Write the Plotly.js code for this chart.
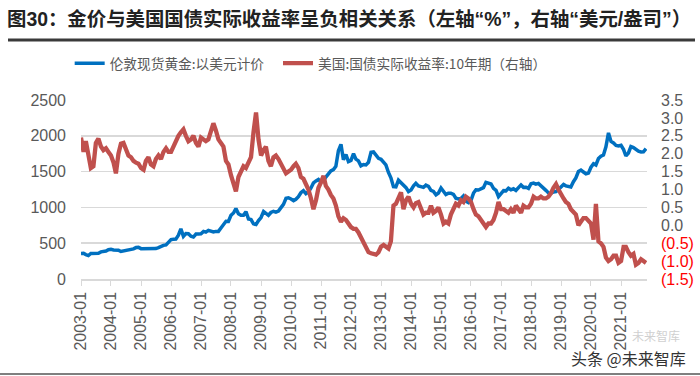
<!DOCTYPE html>
<html>
<head>
<meta charset="utf-8">
<script src="https://cdn.plot.ly/plotly-3.0.1.min.js"></script>
<style>html,body{margin:0;padding:0;background:#fff;}#chart{width:700px;height:376px;}</style>
</head>
<body>
<div id="chart"></div>
<script>
// Monthly observations, first point = 2003-01
const startYear = 2003;
const goldName = '伦敦现货黄金:以美元计价';
const yieldName = '美国:国债实际收益率:10年期（右轴）';

const goldPrice = [
  357, 359, 341, 328, 356, 356, 351, 360, 379, 379, 390, 408,
  414, 405, 407, 403, 384, 392, 398, 401, 405, 421, 439, 442,
  424, 423, 434, 429, 422, 431, 425, 438, 456, 470, 477, 510,
  550, 555, 557, 611, 700, 596, 634, 633, 598, 586, 628, 630,
  631, 665, 655, 679, 667, 656, 665, 665, 713, 755, 806, 803,
  890, 922, 985, 910, 889, 890, 940, 839, 830, 770, 760, 816,
  859, 943, 924, 890, 929, 946, 934, 949, 997, 1043, 1127, 1135,
  1118, 1095, 1113, 1149, 1205, 1233, 1193, 1216, 1271, 1342, 1370, 1391,
  1356, 1373, 1424, 1474, 1510, 1529, 1573, 1790, 1880, 1665, 1739, 1640,
  1656, 1750, 1674, 1650, 1580, 1599, 1594, 1630, 1770, 1775, 1722, 1685,
  1672, 1628, 1593, 1488, 1414, 1290, 1286, 1380, 1349, 1317, 1276, 1222,
  1244, 1300, 1336, 1299, 1288, 1279, 1311, 1295, 1237, 1223, 1176, 1201,
  1270, 1227, 1179, 1199, 1199, 1182, 1128, 1118, 1125, 1159, 1086, 1068,
  1098, 1200, 1245, 1242, 1261, 1276, 1350, 1340, 1327, 1267, 1238, 1151,
  1192, 1234, 1231, 1267, 1246, 1260, 1237, 1283, 1314, 1280, 1282, 1265,
  1331, 1340, 1325, 1335, 1304, 1282, 1238, 1202, 1198, 1215, 1221, 1250,
  1292, 1320, 1301, 1286, 1284, 1359, 1413, 1500, 1520, 1495, 1470, 1479,
  1561, 1610, 1592, 1683, 1716, 1732, 1847, 2040, 1922, 1900, 1866, 1858,
  1867, 1808, 1718, 1760, 1850, 1835, 1808, 1785, 1775, 1777, 1820
];

const realYield = [
  2.45, 2.05, 2.35, 2.00, 1.60, 1.65, 2.30, 2.42, 2.20, 2.10, 2.15, 2.05,
  1.95, 1.75, 1.45, 2.00, 2.28, 2.30, 2.15, 1.95, 1.90, 1.80, 1.75, 1.72,
  1.60, 1.55, 1.80, 1.90, 1.70, 1.65, 1.85, 1.95, 1.85, 2.05, 2.15, 2.05,
  2.05, 2.20, 2.40, 2.50, 2.60, 2.68, 2.50, 2.35, 2.40, 2.50, 2.30, 2.20,
  2.45, 2.40, 2.35, 2.40, 2.60, 2.85, 2.65, 2.40, 2.30, 2.20, 1.80, 1.70,
  1.40, 1.20, 0.95, 1.35, 1.50, 1.65, 1.60, 1.75, 1.90, 2.60, 3.15, 2.40,
  1.95, 2.10, 2.20, 1.80, 1.65, 1.90, 1.95, 1.85, 1.70, 1.55, 1.45, 1.50,
  1.55, 1.65, 1.72, 1.60, 1.35, 1.30, 1.15, 1.00, 0.75, 0.45, 0.70, 1.05,
  1.20, 1.38, 1.10, 1.00, 0.85, 0.75, 0.55, 0.25, 0.10, 0.20, 0.15, 0.05,
  -0.05, -0.10, -0.10, -0.20, -0.35, -0.45, -0.65, -0.75, -0.78, -0.80, -0.82, -0.75,
  -0.60, -0.55, -0.60, -0.65, -0.45, 0.55, 0.60, 0.75, 0.92, 0.45, 0.70, 0.80,
  0.60, 0.50, 0.62, 0.65, 0.45, 0.30, 0.35, 0.35, 0.55, 0.35, 0.40, 0.50,
  0.30, 0.05, 0.10, 0.05, 0.30, 0.45, 0.60, 0.55, 0.70, 0.65, 0.80, 0.75,
  0.65, 0.45, 0.30, 0.25, 0.15, 0.05, -0.05, 0.05, 0.05, 0.15, 0.35, 0.65,
  0.45, 0.45, 0.40, 0.35, 0.45, 0.35, 0.55, 0.45, 0.35, 0.55, 0.50, 0.50,
  0.60, 0.80, 0.75, 0.75, 0.80, 0.75, 0.75, 0.80, 0.90, 1.05, 1.15, 1.00,
  0.85, 0.75, 0.65, 0.60, 0.45, 0.35, 0.30, 0.00, 0.10, 0.20, 0.20, 0.10,
  0.05, -0.40, 0.60, -0.45, -0.50, -0.60, -0.90, -1.00, -0.95, -0.85, -0.85, -1.05,
  -1.00, -0.60, -0.60, -0.75, -0.85, -0.80, -1.10, -1.05, -0.95, -1.00, -1.05
];

const leftTicks = [0, 500, 1000, 1500, 2000, 2500];
const rightTicks = [-1.5, -1.0, -0.5, 0, 0.5, 1.0, 1.5, 2.0, 2.5, 3.0, 3.5];
const rightTickText = ['(1.5)', '(1.0)', '(0.5)', '0.0', '0.5', '1.0', '1.5', '2.0', '2.5', '3.0', '3.5'];
const yearTicks = ['2003-01','2004-01','2005-01','2006-01','2007-01','2008-01','2009-01','2010-01','2011-01','2012-01','2013-01','2014-01','2015-01','2016-01','2017-01','2018-01','2019-01','2020-01','2021-01'];

function monthDates(n) {
  const out = [];
  for (let i = 0; i < n; i++) {
    const y = startYear + Math.floor(i / 12);
    const m = (i % 12) + 1;
    out.push(y + '-' + (m < 10 ? '0' + m : m) + '-01');
  }
  return out;
}

const gridGray = '#d9d9d9';
const textGray = '#595959';
const font = 'Liberation Sans, Arial, Noto Sans CJK SC, sans-serif';
const legendFont = {family: 'Noto Sans CJK SC, Liberation Sans, sans-serif', size: 13.7, color: textGray};

const traces = [
  {
    x: monthDates(goldPrice.length), y: goldPrice, name: goldName,
    type: 'scatter', mode: 'lines', yaxis: 'y', legend: 'legend',
    line: {color: '#0070C0', width: 3.5}
  },
  {
    x: monthDates(realYield.length), y: realYield, name: yieldName,
    type: 'scatter', mode: 'lines', yaxis: 'y2', legend: 'legend2',
    line: {color: '#C0504D', width: 4.3}
  }
];

const layout = {
  width: 700, height: 376,
  margin: {l: 81, r: 53, t: 100, b: 97, pad: 0},
  paper_bgcolor: '#fff', plot_bgcolor: '#fff',
  font: {family: font, color: textGray, size: 16},
  title: {
    text: '<b>图30：金价与美国国债实际收益率呈负相关关系（左轴“%”，右轴“美元/盎司”）</b>',
    x: 7/700, xref: 'container', xanchor: 'left',
    y: 1 - 19/376, yref: 'container', yanchor: 'middle',
    font: {family: 'Liberation Sans, Noto Sans CJK SC, sans-serif', size: 19.4, color: '#222'}
  },
  showlegend: true,
  legend: {
    orientation: 'h', x: -0.02, xanchor: 'left', y: 1.205, yanchor: 'middle',
    font: legendFont, bgcolor: 'rgba(0,0,0,0)', itemwidth: 30
  },
  legend2: {
    orientation: 'h', x: (278-81)/566, xanchor: 'left', y: 1.205, yanchor: 'middle',
    font: legendFont, bgcolor: 'rgba(0,0,0,0)', itemwidth: 30
  },
  xaxis: {
    type: 'date',
    range: ['2003-01-01', '2021-11-13'],
    tickvals: yearTicks.map(t => t + '-01'),
    ticktext: yearTicks,
    tickangle: -90,
    ticks: 'outside', ticklen: 5, tickcolor: gridGray, tickwidth: 1,
    showline: true, linecolor: gridGray, linewidth: 1.5,
    showgrid: false, zeroline: false,
    tickfont: {size: 16, color: textGray}
  },
  yaxis: {
    range: [0, 2500], tickvals: leftTicks,
    showgrid: true, gridcolor: gridGray, gridwidth: 1.5,
    zeroline: false, showline: false, ticks: '',
    ticklabelstandoff: 14,
    tickfont: {size: 16, color: textGray}
  },
  yaxis2: {
    overlaying: 'y', side: 'right',
    range: [-1.5, 3.5], tickvals: rightTicks,
    ticktext: rightTickText.map(t => t.charAt(0) === '(' ? '<span style="color:#FF0000">' + t + '</span>' : t),
    showgrid: false, zeroline: false, showline: false, ticks: '',
    ticklabelstandoff: 13,
    tickfont: {size: 16, color: textGray}
  },
  shapes: [
    {type: 'line', xref: 'paper', yref: 'paper', x0: (8-81)/566, x1: (695-81)/566, y0: (279-40)/179, y1: (279-40)/179, line: {color: '#3a3a3a', width: 3}},
    {type: 'line', xref: 'paper', yref: 'paper', x0: (0-81)/566, x1: (700-81)/566, y0: (279-374)/179, y1: (279-374)/179, line: {color: '#555', width: 1.5}}
  ],
  annotations: [
    {text: '未来智库', xref: 'paper', yref: 'paper', x: (656-81)/566, y: (279-335)/179, xanchor: 'center', yanchor: 'middle', showarrow: false, font: {family: 'Noto Sans CJK SC', size: 12, color: '#d0d0d0'}},
    {text: '头条 @未来智库', xref: 'paper', yref: 'paper', x: (688-81)/566, y: (279-358)/179, xanchor: 'right', yanchor: 'middle', showarrow: false, font: {family: 'Noto Sans CJK SC', size: 16, color: '#333'}}
  ]
};

Plotly.newPlot('chart', traces, layout, {displayModeBar: false, staticPlot: true});
</script>
</body>
</html>
